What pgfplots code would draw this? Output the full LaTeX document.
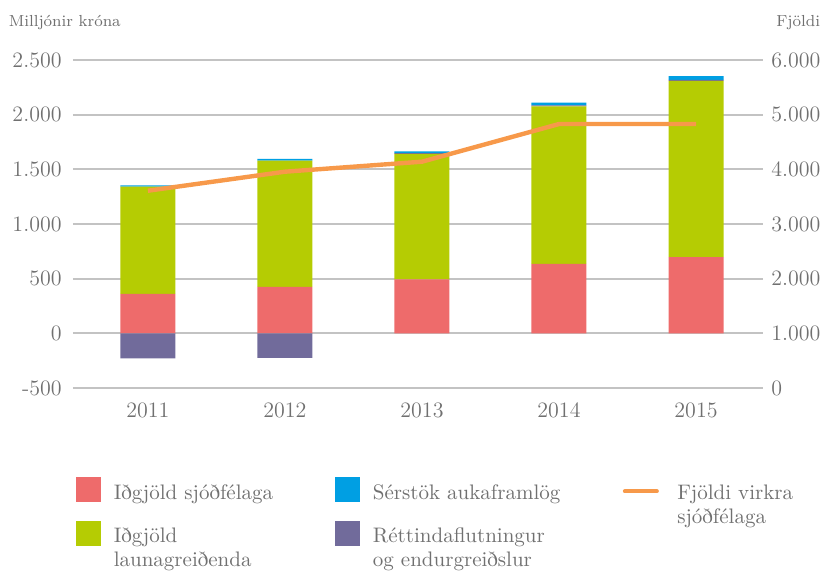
\documentclass[border=0pt]{standalone}
\usepackage{pgfplots}
\pgfplotsset{compat=1.18}
\definecolor{cred}{RGB}{238,107,107}
\definecolor{cgreen}{RGB}{181,204,3}
\definecolor{cblue}{RGB}{0,159,227}
\definecolor{cpurple}{RGB}{113,107,155}
\definecolor{corange}{RGB}{247,153,74}
\definecolor{ctext}{RGB}{112,112,112}
\definecolor{cgrid}{RGB}{195,195,195}
\pgfplotsset{
 base/.style={
  scale only axis, width=345pt, height=164pt,
  at={(36.5pt,-194pt)}, anchor=south west,
  xmin=-0.547, xmax=4.489,
  axis line style={draw=none},
  major tick length=0pt,
  tick label style={font=\fontsize{11}{13}\selectfont, text=ctext},
 }
}
\begin{document}
\begin{tikzpicture}
\useasboundingbox (0,0) rectangle (413.5pt,-285pt);
\begin{axis}[base, ybar stacked, bar width=27.5pt,
 ymin=-500, ymax=2500, ytick={-500,0,500,1000,1500,2000,2500},
 yticklabels={-500,0,500,1.000,1.500,2.000,2.500},
 ymajorgrids, grid style={cgrid, line width=1pt},
 xtick={0,1,2,3,4}, xticklabels={2011,2012,2013,2014,2015},
 yticklabel style={anchor=east, inner sep=0pt, xshift=-5.5pt},
 xticklabel style={anchor=north, inner sep=0pt, yshift=-7pt},
 ytick pos=left, xtick pos=bottom]
 \addplot[fill=cred, draw=none] coordinates {(0,362) (1,426) (2,494) (3,635) (4,696)};
 \addplot[fill=cgreen, draw=none] coordinates {(0,981) (1,1154) (2,1147) (3,1441) (4,1613)};
 \addplot[fill=cpurple, draw=none] coordinates {(0,0) (1,0) (2,8) (3,8) (4,10)};
 \addplot[fill=cblue, draw=none] coordinates {(0,10) (1,15) (2,16) (3,26) (4,33)};
\end{axis}
\begin{axis}[base, ybar, bar width=27.5pt, bar shift=0pt,
 ymin=-500, ymax=2500, xtick=\empty, ytick=\empty]
 \addplot[fill=cpurple, draw=none] coordinates {(0,-230) (1,-224)};
\end{axis}
\begin{axis}[base, ymin=0, ymax=6000, axis y line*=right, axis x line=none,
 ytick={0,1000,2000,3000,4000,5000,6000},
 yticklabels={0,1.000,2.000,3.000,4.000,5.000,6.000},
 yticklabel style={anchor=west, inner sep=0pt, xshift=4pt},
 legend columns=3,
 legend style={at={(0.0043,-0.2713)}, anchor=north west, draw=none, fill=none,
   inner sep=0pt, outer sep=0pt, row sep=-5pt,
   font=\fontsize{10.5}{12}\selectfont, text=ctext,
   cells={anchor=base west}, nodes={inner sep=0pt, text depth=},
   /tikz/every odd column/.append style={column sep=6.5pt},
   /tikz/every even column/.append style={column sep=31pt}}]
 \addlegendimage{legend image code/.code={\fill[cred] (0pt,-1pt) rectangle (12pt,11pt);}}
 \addlegendentry{Iðgjöld sjóðfélaga}
 \addlegendimage{legend image code/.code={\fill[cblue] (0pt,-1pt) rectangle (12pt,11pt);}}
 \addlegendentry{Sérstök aukaframlög}
 \addlegendimage{legend image code/.code={\fill[white, opacity=0] (0pt,3pt) rectangle (20.5pt,5pt); \draw[corange, line width=2pt, line cap=round] (1pt,4pt) -- (17pt,4pt);}}
 \addlegendentry{\begin{tabular}[t]{@{}l@{}}Fjöldi virkra\\sjóðfélaga\end{tabular}}
 \addlegendimage{legend image code/.code={\fill[cgreen] (0pt,-1pt) rectangle (12pt,11pt);}}
 \addlegendentry{\begin{tabular}[t]{@{}l@{}}Iðgjöld\\launagreiðenda\end{tabular}}
 \addlegendimage{legend image code/.code={\fill[cpurple] (0pt,-1pt) rectangle (12pt,11pt);}}
 \addlegendentry{\begin{tabular}[t]{@{}l@{}}Réttindaflutningur\\og endurgreiðslur\end{tabular}}
 \addplot[corange, line width=2.2pt, forget plot] coordinates {(0,3609) (1,3957) (2,4140) (3,4829) (4,4829)};
\end{axis}
\node[anchor=base west, inner sep=0pt, font=\fontsize{8}{10}\selectfont, text=ctext] at (4.2pt,-13pt) {Milljónir króna};
\node[anchor=base west, inner sep=0pt, font=\fontsize{8}{10}\selectfont, text=ctext] at (388pt,-13pt) {Fjöldi};
\end{tikzpicture}
\end{document}
